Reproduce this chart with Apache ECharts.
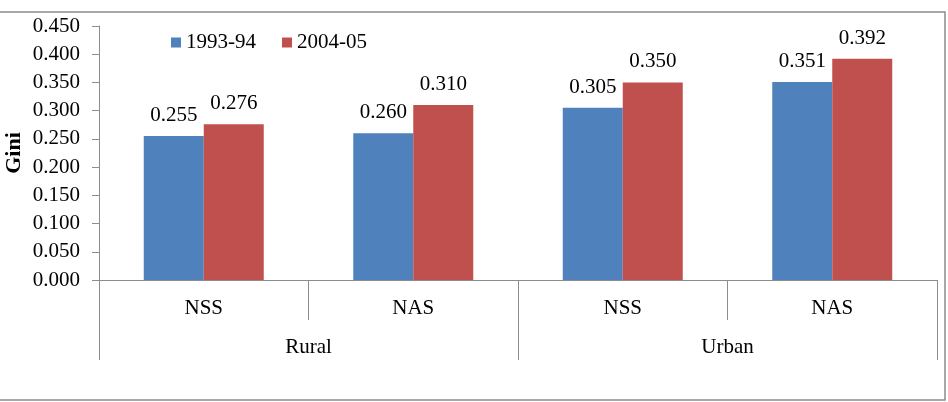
<!DOCTYPE html>
<html>
<head>
<meta charset="utf-8">
<script src="https://cdn.jsdelivr.net/npm/echarts@6/dist/echarts.min.js"></script>
<style>
  html, body { margin: 0; padding: 0; background: #fff; }
  #main { width: 948px; height: 402px; }
</style>
</head>
<body>
<div id="main"></div>
<script>
var methods = ["NSS", "NAS", "NSS", "NAS"];
var areas = ["Rural", "Urban"];
var seriesNames = ["1993-94", "2004-05"];
var gini1993 = [0.255, 0.260, 0.305, 0.351];
var gini2004 = [0.276, 0.310, 0.350, 0.392];

var chart = echarts.init(document.getElementById("main"));
var font = "Liberation Serif";
var axisColor = "#8c8c8c";

var option = {
  animation: false,
  textStyle: { fontFamily: font },
  color: ["#4F81BD", "#C0504D"],
  grid: { left: 99, right: 11, top: 26, bottom: 122, outerBoundsMode: "none", containLabel: false },
  legend: {
    data: seriesNames,
    left: 166,
    top: 27,
    icon: "rect",
    itemWidth: 10,
    itemHeight: 10,
    itemGap: 26,
    textStyle: { fontFamily: font, fontSize: 21, color: "#000" }
  },
  graphic: [{
    type: "rect",
    shape: { x: -2, y: 12, width: 947, height: 388 },
    style: { fill: null, stroke: "#8c8c8c", lineWidth: 1.5 }
  }],
  xAxis: [{
    type: "category",
    data: methods,
    position: "bottom",
    axisLine: { show: true, lineStyle: { color: axisColor } },
    axisTick: { show: true, length: 40, interval: 0, lineStyle: { color: axisColor } },
    axisLabel: { margin: 18, fontSize: 21, color: "#000", fontFamily: font }
  }, {
    type: "category",
    data: areas,
    position: "bottom",
    axisLine: { show: false },
    axisTick: { show: true, length: 80, interval: 0, lineStyle: { color: axisColor } },
    axisLabel: { margin: 57, fontSize: 21, color: "#000", fontFamily: font }
  }],
  yAxis: {
    type: "value",
    min: 0,
    max: 0.45,
    interval: 0.05,
    name: "Gini",
    nameLocation: "middle",
    nameRotate: 90,
    nameGap: 74,
    nameMoveOverlap: false,
    nameTextStyle: { fontSize: 22, fontWeight: "bold", color: "#000", fontFamily: font },
    axisLine: { show: true, lineStyle: { color: axisColor } },
    axisTick: { show: true, length: 7, lineStyle: { color: axisColor } },
    splitLine: { show: false },
    axisLabel: {
      margin: 19,
      fontSize: 21,
      color: "#000",
      fontFamily: font,
      formatter: function (v) { return v.toFixed(3); }
    }
  },
  series: [{
    name: seriesNames[0],
    type: "bar",
    data: gini1993,
    barWidth: 60,
    barGap: "0%",
    label: {
      show: true, position: "top", distance: 10,
      fontSize: 21, color: "#000", fontFamily: font,
      formatter: function (p) { return p.value.toFixed(3); }
    }
  }, {
    name: seriesNames[1],
    type: "bar",
    data: gini2004,
    barWidth: 60,
    barGap: "0%",
    label: {
      show: true, position: "top", distance: 10,
      fontSize: 21, color: "#000", fontFamily: font,
      formatter: function (p) { return p.value.toFixed(3); }
    }
  }]
};
chart.setOption(option);
</script>
</body>
</html>
